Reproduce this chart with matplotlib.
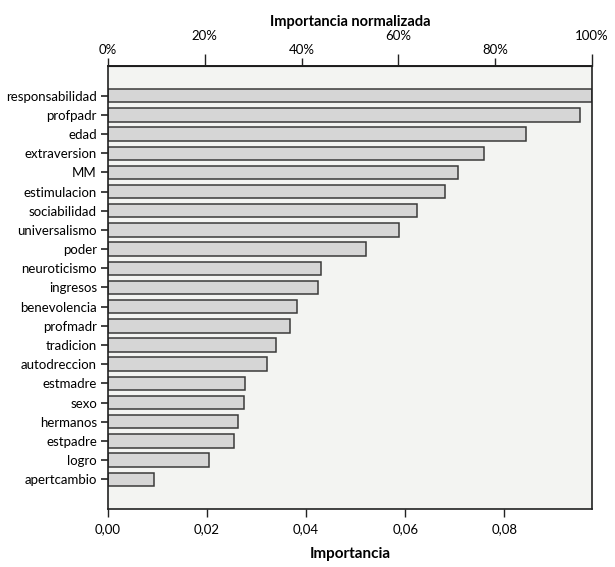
import matplotlib.pyplot as plt
from matplotlib.ticker import FuncFormatter

# variables (top to bottom) and importance
variables = ['responsabilidad', 'profpadr', 'edad', 'extraversion', 'MM',
             'estimulacion', 'sociabilidad', 'universalismo', 'poder',
             'neuroticismo', 'ingresos', 'benevolencia', 'profmadr',
             'tradicion', 'autodreccion', 'estmadre', 'sexo', 'hermanos',
             'estpadre', 'logro', 'apertcambio']
importancia = [0.0977, 0.0953, 0.0843, 0.0759, 0.0706, 0.0681, 0.0624,
               0.0588, 0.0520, 0.0430, 0.0423, 0.0382, 0.0368, 0.0339,
               0.0321, 0.0276, 0.0274, 0.0263, 0.0255, 0.0204, 0.0092]
bottom_ticks = [0.0, 0.02, 0.04, 0.06, 0.08]
top_low = [0, 40, 80]
top_high = [20, 60, 100]

plt.rcParams['font.family'] = ['Lato', 'DejaVu Sans']
plt.rcParams['font.size'] = 9.5

vmax = max(importancia)
fig = plt.figure(figsize=(6.15, 5.67), dpi=100)
ax = fig.add_axes([0.1756, 0.1023, 0.7870, 0.7813])
ax.set_facecolor('#f3f4f2')

pos = list(range(len(variables)))
ax.barh(pos, importancia, height=0.7, color='#d6d6d6',
        edgecolor='#3a3a3a', linewidth=1.1, zorder=2)

ax.set_xlim(0, vmax)
ax.set_ylim(len(variables) - 1 + 1.55, -1.55)
ax.set_yticks(pos)
ax.set_yticklabels(variables)
ax.tick_params(axis='y', length=5, width=1.2, color='#222222', pad=3)

ax.set_xticks(bottom_ticks)
ax.xaxis.set_major_formatter(FuncFormatter(lambda v, p: f'{v:.2f}'.replace('.', ',')))
ax.tick_params(axis='x', length=6, width=1, color='#222222', pad=4)
ax.set_xlabel('Importancia', fontsize=11, fontweight='bold', labelpad=9)

for s in ax.spines.values():
    s.set_color('#222222')
    s.set_linewidth(1.2)

# normalized axis on top (staggered labels)
to_pct = (lambda x: x / vmax * 100, lambda p: p * vmax / 100)
top1 = ax.secondary_xaxis('top', functions=to_pct)
top1.set_xticks(top_low)
top1.xaxis.set_major_formatter(FuncFormatter(lambda v, p: f'{v:.0f}%'))
top1.tick_params(length=6, width=1, color='#222222', pad=1)
top1.spines['top'].set_linewidth(1.2)

top2 = ax.secondary_xaxis('top', functions=to_pct)
top2.set_xticks(top_high)
top2.xaxis.set_major_formatter(FuncFormatter(lambda v, p: f'{v:.0f}%'))
top2.tick_params(length=9, width=1, color='#222222', pad=8)
top2.set_xlabel('Importancia normalizada', fontsize=10.5, fontweight='bold', labelpad=3)

fig.savefig('out.png', dpi=100)
